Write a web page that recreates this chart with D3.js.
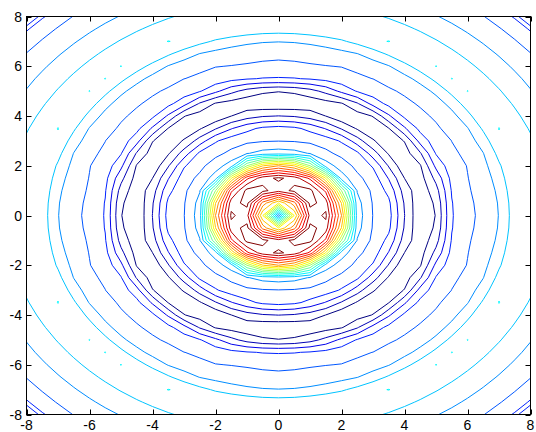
<!DOCTYPE html>
<html>
<head>
<meta charset="utf-8">
<script src="https://cdn.jsdelivr.net/npm/d3@7"></script>
<style>
  body { margin: 0; background: #fff; }
  svg { display: block; }
  text { font-family: "Liberation Sans", Arial, sans-serif; font-size: 14px; fill: #000; }
</style>
</head>
<body>
<script>
// Sampling grid (same spacing on both axes)
const gridStart = -8;
const gridEnd = 8;
const gridStep = 0.5;

// Radial height profile of the surface, expressed in contour-level units
const profileRadius = [0, 0.5, 0.707, 1.0, 1.118, 1.414, 1.5, 1.58, 1.8, 2.0, 2.5, 3.0, 3.5, 4.0, 4.5,
  5.0, 5.5, 6.0, 6.5, 7.0, 7.5, 7.63, 7.765, 7.775, 7.83, 7.87, 7.906, 8.0, 8.66, 9.48, 10.35, 10.63, 10.97, 11.32];
const profileHeight = [5.5, 13.0, 15.6, 19.4, 20.3, 20.35, 20.2, 19.6, 17.8, 15.0, 6.53, 4.97, 4.38, 2.02, 0.13,
  1.05, 3.9, 4.9, 5.1, 6.04, 7.5, 7.9, 7.98, 8.02, 8.02, 7.97, 7.95, 7.8, 7.0, 6.0, 5.0, 4.4, 3.9, 4.3];

// Contour levels
const levels = d3.range(1, 21);

// Axis ticks
const xTicks = [-8, -6, -4, -2, 0, 2, 4, 6, 8];
const yTicks = [-8, -6, -4, -2, 0, 2, 4, 6, 8];

const width = 536, height = 432;
const plot = { left: 26.5, right: 530.5, top: 16.5, bottom: 414.5 };

const x = d3.scaleLinear().domain([gridStart, gridEnd]).range([plot.left, plot.right]);
const y = d3.scaleLinear().domain([gridStart, gridEnd]).range([plot.bottom, plot.top]);

// jet colormap
function jet(t) {
  const c = v => Math.max(0, Math.min(1, v));
  const r = c(1.5 - Math.abs(4 * t - 3));
  const g = c(1.5 - Math.abs(4 * t - 2));
  const b = c(1.5 - Math.abs(4 * t - 1));
  return d3.rgb(r * 255, g * 255, b * 255).formatHex();
}
const levelColor = d3.scaleLinear().domain([levels[0], levels[levels.length - 1]]).range([0, 1]);

// Radial profile lookup
const profile = d3.scaleLinear().domain(profileRadius).range(profileHeight).clamp(true);

// Surface samples on the grid
const nodes = d3.range(gridStart, gridEnd + gridStep / 2, gridStep);
const n = nodes.length;
const values = new Array(n * n);
for (let j = 0; j < n; j++) {
  for (let i = 0; i < n; i++) {
    values[j * n + i] = profile(Math.hypot(nodes[i], nodes[j]));
  }
}

const svg = d3.select("body").append("svg")
  .attr("width", width).attr("height", height);

svg.append("defs").append("clipPath").attr("id", "plot-clip")
  .append("rect")
  .attr("x", plot.left).attr("y", plot.top)
  .attr("width", plot.right - plot.left).attr("height", plot.bottom - plot.top);

// grid coordinate -> screen coordinate (sample k sits at grid coordinate k + 0.5)
const toScreen = d3.geoTransform({
  point(gx, gy) {
    this.stream.point(
      x(gridStart + (gx - 0.5) * gridStep),
      y(gridStart + (gy - 0.5) * gridStep)
    );
  }
});
const path = d3.geoPath(toScreen);

const contours = d3.contours().size([n, n]).thresholds(levels)(values);

svg.append("g")
  .attr("clip-path", "url(#plot-clip)")
  .selectAll("path")
  .data(contours)
  .join("path")
  .attr("d", path)
  .attr("fill", "none")
  .attr("stroke", d => jet(levelColor(d.value)))
  .attr("stroke-width", 1);

// Frame
svg.append("rect")
  .attr("x", plot.left).attr("y", plot.top)
  .attr("width", plot.right - plot.left).attr("height", plot.bottom - plot.top)
  .attr("fill", "none").attr("stroke", "#000").attr("stroke-width", 1);

// Inward ticks on all four sides
const tickLen = 5;
const ticks = svg.append("g").attr("stroke", "#000").attr("stroke-width", 1);
xTicks.forEach(t => {
  const px = Math.round(x(t)) + 0.5;
  ticks.append("line").attr("x1", px).attr("x2", px).attr("y1", plot.bottom).attr("y2", plot.bottom - tickLen);
  ticks.append("line").attr("x1", px).attr("x2", px).attr("y1", plot.top).attr("y2", plot.top + tickLen);
});
yTicks.forEach(t => {
  const py = Math.round(y(t)) + 0.5;
  ticks.append("line").attr("y1", py).attr("y2", py).attr("x1", plot.left).attr("x2", plot.left + tickLen);
  ticks.append("line").attr("y1", py).attr("y2", py).attr("x1", plot.right).attr("x2", plot.right - tickLen);
});

// Tick labels
svg.append("g").selectAll("text").data(xTicks).join("text")
  .attr("x", d => x(d)).attr("y", 430)
  .attr("text-anchor", "middle")
  .text(d => d);
svg.append("g").selectAll("text").data(yTicks).join("text")
  .attr("x", 22).attr("y", d => y(d) + 5)
  .attr("text-anchor", "end")
  .text(d => d);
</script>
</body>
</html>
